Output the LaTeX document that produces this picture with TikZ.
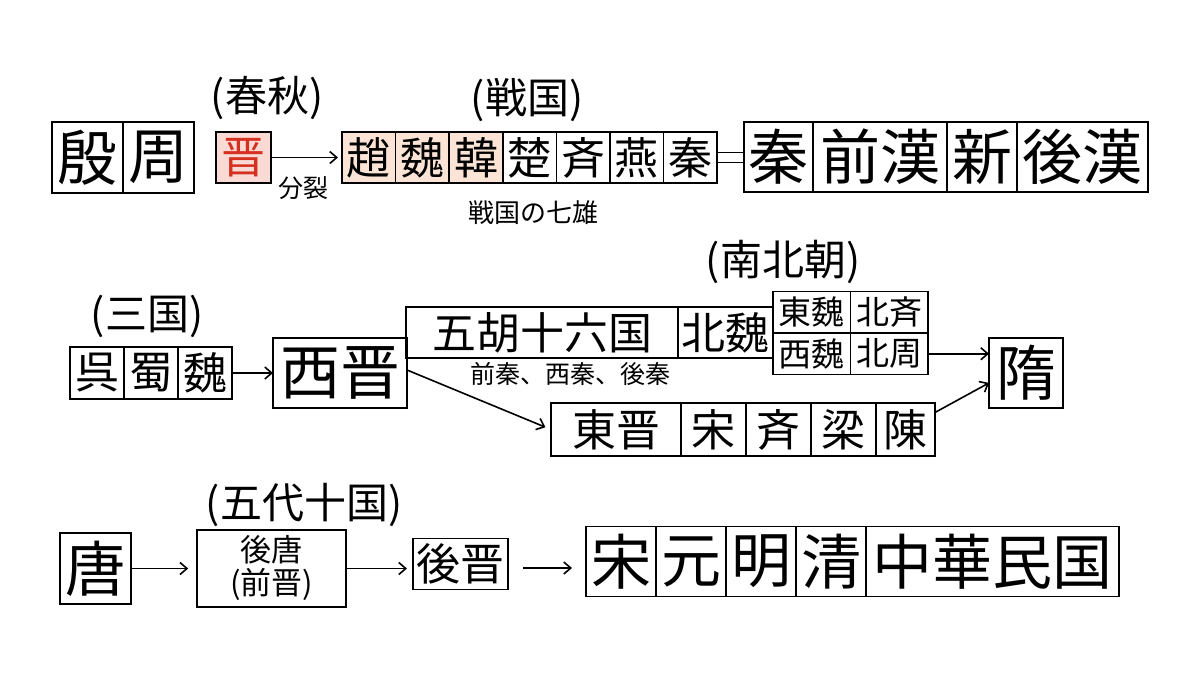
\documentclass[tikz,border=0pt]{standalone}
\usepackage{fontspec}
\setmainfont{Noto Sans CJK JP}
\usetikzlibrary{positioning,arrows.meta}
\definecolor{jinfill}{RGB}{250,218,212}
\definecolor{jinred}{RGB}{214,48,32}
\definecolor{splitfill}{RGB}{251,228,214}
\tikzset{
    bigcell/.style ={
        draw,
        inner sep=0pt,
        outer sep=0pt,
        minimum height=70pt,
        font=\fontsize{60}{60}\selectfont
    },
    midcell/.style ={
        draw,
        inner sep=0pt,
        outer sep=0pt,
        minimum height=51pt,
        font=\fontsize{44}{44}\selectfont
    },
    smallcell/.style ={
        draw,
        inner sep=0pt,
        outer sep=0pt,
        minimum width=77.5pt,
        minimum height=41.5pt,
        font=\fontsize{33}{33}\selectfont
    },
    period/.style ={
        inner sep=0pt,
        font=\fontsize{42}{42}\selectfont
    },
    note/.style ={
        inner sep=0pt,
        font=\fontsize{25}{25}\selectfont
    }
}

\begin{document}
\begin{tikzpicture}[x=1pt,y=-1pt,line width=1.6pt,>={Straight Barb[length=7pt,width=12pt]}]
    \useasboundingbox[fill=white] (0,0) rectangle (1200,675);
    % first row
    \node[bigcell,minimum width=71pt,minimum height=71pt] (yin) at (87.5,157.5) {殷};
    \node[bigcell,minimum width=71pt,minimum height=71pt,right=0pt of yin] (zhou) {周};
    \node[midcell,fill=jinfill,text=jinred,minimum width=55pt] (jin) at (243.5,157.5) {晋};
    \node[period] (chunqiu) at (267,98) {(春秋)};
    \node[note] (fenlie) at (303,188) {分裂};
    \node[midcell,fill=splitfill,minimum width=53.6pt] (zhao) at (368.8,157.5) {趙};
    \node[midcell,fill=splitfill,minimum width=53.6pt,right=0pt of zhao] (wei) {魏};
    \node[midcell,fill=splitfill,minimum width=53.6pt,right=0pt of wei] (han) {韓};
    \node[midcell,minimum width=53.6pt,right=0pt of han] (chu) {楚};
    \node[midcell,minimum width=53.6pt,right=0pt of chu] (qi) {斉};
    \node[midcell,minimum width=53.6pt,right=0pt of qi] (yan) {燕};
    \node[midcell,minimum width=53.6pt,right=0pt of yan] (qin) {秦};
    \node[period] (zhanguo) at (527,100) {(戦国)};
    \node[note,font=\fontsize{26}{26}\selectfont] (qixiong) at (533,213) {戦国の七雄};
    \node[bigcell,minimum width=69pt] (qin2) at (778.5,157) {秦};
    \node[bigcell,minimum width=134pt,right=0pt of qin2] (qianhan) {前漢};
    \node[bigcell,minimum width=70pt,right=0pt of qianhan] (xin) {新};
    \node[bigcell,minimum width=131pt,right=0pt of xin] (houhan) {後漢};
    \draw[->,shorten >=4pt] (jin) -- (zhao);
    \draw ([yshift=5pt]qin.east) -- ([yshift=5pt]qin.east -| qin2.west);
    \draw ([yshift=-5pt]qin.east) -- ([yshift=-5pt]qin.east -| qin2.west);

    % second row
    \node[period] (sanguo) at (147,316) {(三国)};
    \node[midcell,minimum width=54pt,minimum height=52pt] (wu) at (97,373) {呉};
    \node[midcell,minimum width=54pt,minimum height=52pt,right=0pt of wu] (shu) {蜀};
    \node[midcell,minimum width=54pt,minimum height=52pt,right=0pt of shu] (caowei) {魏};
    \node[bigcell,minimum width=134pt] (xijin) at (340,373) {西晋};
    \node[midcell,minimum width=272pt] (wuhu) at (542,332.5) {五胡十六国};
    \node[midcell,minimum width=95pt,right=0pt of wuhu] (beiwei) {北魏};
    \node[note] (qinlist) at (570,374) {前秦、西秦、後秦};
    \node[smallcell,anchor=south west] (dongwei) at (773,333) {東魏};
    \node[smallcell,right=0pt of dongwei] (beiqi) {北斉};
    \node[smallcell,below=0pt of dongwei] (xiwei) {西魏};
    \node[smallcell,right=0pt of xiwei] (beizhou) {北周};
    \node[period] (nanbei) at (783,262) {(南北朝)};
    \node[bigcell,minimum width=74pt] (sui) at (1026,373) {隋};
    \node[midcell,minimum width=130pt,minimum height=53pt] (dongjin) at (616,429.5) {東晋};
    \node[midcell,minimum width=65pt,minimum height=53pt,right=0pt of dongjin] (liusong) {宋};
    \node[midcell,minimum width=65pt,minimum height=53pt,right=0pt of liusong] (nanqi) {斉};
    \node[midcell,minimum width=65pt,minimum height=53pt,right=0pt of nanqi] (liang) {梁};
    \node[midcell,minimum width=59pt,minimum height=53pt,right=0pt of liang] (chen) {陳};
    \draw[->] (caowei) -- (xijin);
    \draw[->,shorten >=6pt] ([yshift=3pt]xijin.east) -- (dongjin.west);
    \draw[->] (beizhou.east) -- (beizhou.east -| sui.west);
    \draw[->] (chen.30) -- (sui.195);

    % third row
    \node[bigcell,minimum width=71pt,minimum height=71pt] (tang) at (95.5,568.5) {唐};
    \node[draw,inner sep=0pt,minimum width=149pt,minimum height=77pt,align=center,
          font=\fontsize{31}{33}\selectfont] (houtang) at (271.5,568.5) {後唐\\(前晋)};
    \node[period] (wudai) at (304,505) {(五代十国)};
    \node[midcell,minimum width=95pt,minimum height=51pt] (houjin) at (460.5,564) {後晋};
    \coordinate (gapL) at (523,568);
    \coordinate (gapR) at (572,568);
    \node[bigcell,minimum width=70pt] (song) at (621,561.5) {宋};
    \node[bigcell,minimum width=70pt,right=0pt of song] (yuan) {元};
    \node[bigcell,minimum width=70pt,right=0pt of yuan] (ming) {明};
    \node[bigcell,minimum width=70pt,right=0pt of ming] (qing) {清};
    \node[bigcell,minimum width=253pt,right=0pt of qing] (minguo) {中華民国};
    \draw[->,shorten >=8pt] (tang) -- (houtang);
    \draw[->,shorten >=6pt] (houtang.east) -- (houtang.east -| houjin.west);
    \draw[->] (gapL) -- (gapR);
\end{tikzpicture}
\end{document}
